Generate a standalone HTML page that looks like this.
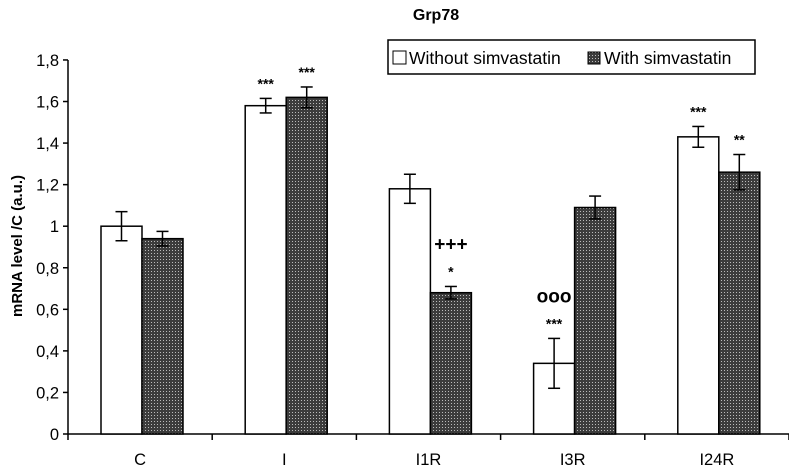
<!DOCTYPE html>
<html><head><meta charset="utf-8"><style>
body{margin:0;background:#fff;}
svg text{font-family:"Liberation Sans",Arial,sans-serif;}
</style></head><body>
<svg id="chart" width="789" height="468" viewBox="0 0 789 468" xmlns="http://www.w3.org/2000/svg">
<defs>
<pattern id="chk" width="3" height="3" patternUnits="userSpaceOnUse">
<rect width="3" height="3" fill="#3c3c3c"/>
<rect x="1" y="1" width="1" height="1" fill="#bbb"/>
</pattern>
</defs>
<text x="436" y="20" text-anchor="middle" font-size="16" font-weight="bold">Grp78</text>
<text transform="translate(22,246) rotate(-90)" text-anchor="middle" font-size="15" font-weight="bold">mRNA level /C (a.u.)</text>
<g id="axes"></g>
<g id="bars"></g>
<g>
<rect x="388" y="40" width="367" height="34" fill="#fff" stroke="#000" stroke-width="1.5"/>
<rect x="393" y="51" width="13" height="13" fill="#fff" stroke="#000"/>
<text x="409" y="64" font-size="17.5">Without simvastatin</text>
<rect x="588" y="52" width="12" height="12" fill="url(#chk)" stroke="#000"/>
<text x="604" y="64" font-size="17.5">With simvastatin</text>
</g>
</svg>
<script>
const categories=["C","I","I1R","I3R","I24R"];
const without=[1.0,1.58,1.18,0.34,1.43];
const withS=[0.94,1.62,0.68,1.09,1.26];
const errWithout=[0.07,0.035,0.07,0.12,0.05];
const errWith=[0.035,0.05,0.03,0.055,0.085];
const starsWithout=["","***","","***","***"];
const starsWith=["","***","*","","**"];
const markWithout=["","","","ooo",""];
const markWith=["","","+++","",""];
const yTicks=[0,0.2,0.4,0.6,0.8,1,1.2,1.4,1.6,1.8];
const yLabels=["0","0,2","0,4","0,6","0,8","1","1,2","1,4","1,6","1,8"];

const NS="http://www.w3.org/2000/svg";
const x0=68,catW=144.2,y0=434,unit=207.8;
const y=v=>y0-v*unit;
const cx=i=>x0+i*catW;
function mk(tag,attrs,parent){const e=document.createElementNS(NS,tag);for(const k in attrs)e.setAttribute(k,attrs[k]);parent.appendChild(e);return e;}
const ax=document.getElementById('axes'),bg=document.getElementById('bars');
let l=mk('line',{x1:x0,y1:y(1.8),x2:x0,y2:y0,stroke:'#000','stroke-width':1.5},ax);


l=mk('line',{x1:x0,y1:y0,x2:789,y2:y0,stroke:'#000','stroke-width':1.5},ax);


yTicks.forEach((v,i)=>{
  mk('line',{x1:x0-5,y1:y(v),x2:x0,y2:y(v),stroke:'#000','stroke-width':1.5},ax);
  const t=mk('text',{x:x0-9,y:y(v)+6,'text-anchor':'end','font-size':16.5},ax);
  t.textContent=yLabels[i];
  
  
});
for(let i=0;i<=categories.length;i++) mk('line',{x1:cx(i),y1:y0,x2:cx(i),y2:y0+6,stroke:'#000','stroke-width':1.5},ax);
categories.forEach((c,i)=>{
  const t=mk('text',{x:cx(i)+catW/2,y:y0+31,'text-anchor':'middle','font-size':16.5},ax);
  t.textContent=c;
  
  
  [[without,errWithout,'#fff',0,starsWithout,markWithout,'without'],[withS,errWith,'url(#chk)',41,starsWith,markWith,'with']].forEach(s=>{
    const bx=cx(i)+33+s[3],bw=41,v=s[0][i],e=s[1][i],mid=bx+bw/2;
    const r=mk('rect',{x:bx,y:y(v),width:bw,height:y0-y(v),fill:s[2],stroke:'#000','stroke-width':1.5},bg);
    
    
    mk('line',{x1:mid,y1:y(v+e),x2:mid,y2:y(v-e),stroke:'#000','stroke-width':1.5},bg);
    mk('line',{x1:mid-6,y1:y(v+e),x2:mid+6,y2:y(v+e),stroke:'#000','stroke-width':1.5},bg);
    mk('line',{x1:mid-6,y1:y(v-e),x2:mid+6,y2:y(v-e),stroke:'#000','stroke-width':1.5},bg);
    if(s[4][i]){const t=mk('text',{x:mid,y:y(v+e)-10,'text-anchor':'middle','font-size':14,'font-weight':'bold'},bg);t.textContent=s[4][i];
      
      }
    if(s[5][i]){const t=mk('text',{x:mid,y:y(v+e)-36,'text-anchor':'middle','font-size':19,'font-weight':'bold'},bg);t.textContent=s[5][i];
      
      }
  });
});
</script>
</body></html>
